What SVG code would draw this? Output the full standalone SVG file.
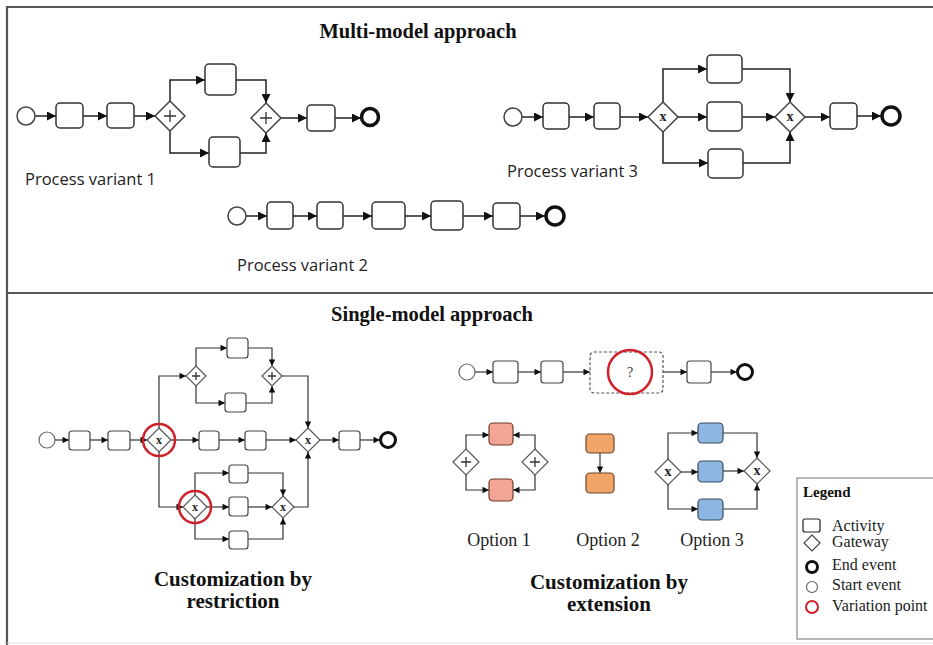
<svg xmlns="http://www.w3.org/2000/svg" width="933" height="645" viewBox="0 0 933 645">
<defs>
<style>
.t{fill:#fff;stroke:#333;stroke-width:1.5}
.ts{fill:#fff;stroke:#444;stroke-width:1.2}
.g{fill:#fff;stroke:#444;stroke-width:1.5}
.gs{fill:#fff;stroke:#555;stroke-width:1.2}
.st{fill:#fff;stroke:#444;stroke-width:1.5}
.sts{fill:#fff;stroke:#666;stroke-width:1.2}
.en{fill:#fff;stroke:#111;stroke-width:3.5}
.ens{fill:#fff;stroke:#111;stroke-width:3}
.vp{fill:none;stroke:#d0202a;stroke-width:2.5}
.c{fill:none;stroke:#222;stroke-width:1.5}
.cs{fill:none;stroke:#333;stroke-width:1.2}
.pl{stroke:#333;stroke-width:1.3}
.pink{fill:#f4a593;stroke:#6b3a33;stroke-width:1.2}
.org{fill:#f0a468;stroke:#6b4526;stroke-width:1.2}
.blu{fill:#8db6e2;stroke:#3a4a5c;stroke-width:1.2}
.h{font-family:"Liberation Serif",serif;font-weight:bold;font-size:20.5px;fill:#111}
.sub{font-family:"Liberation Serif",serif;font-weight:bold;font-size:21px;fill:#111;text-anchor:middle}
.pv{font-family:"Open Sans","Liberation Sans",sans-serif;font-size:16.5px;fill:#222}
.op{font-family:"Liberation Serif",serif;font-size:18px;fill:#222;text-anchor:middle}
.lg{font-family:"Liberation Serif",serif;font-size:16px;fill:#222}
.x{font-family:"Liberation Serif",serif;font-weight:bold;font-size:14px;fill:#222;text-anchor:middle}
.xs{font-family:"Liberation Serif",serif;font-weight:bold;font-size:12px;fill:#222;text-anchor:middle}
</style>
<marker id="ah" viewBox="0 0 10 10" refX="10" refY="5" markerWidth="10" markerHeight="9" markerUnits="userSpaceOnUse" orient="auto"><path d="M0,0 L10,5 L0,10 z" fill="#111"/></marker>
<marker id="as" viewBox="0 0 10 10" refX="10" refY="5" markerWidth="7.5" markerHeight="6.5" markerUnits="userSpaceOnUse" orient="auto"><path d="M0,0 L10,5 L0,10 z" fill="#111"/></marker>
</defs>
<rect width="933" height="645" fill="#fff"/>
<g id="frame">
<path d="M7,645 V7 H933" fill="none" stroke="#555" stroke-width="2.2"/>
<line x1="7" y1="293" x2="933" y2="293" stroke="#555" stroke-width="2.2"/>
<line x1="7" y1="643" x2="933" y2="643" stroke="#ddd" stroke-width="1"/>
</g>
<text class="h" x="418" y="38" text-anchor="middle">Multi-model approach</text>
<text class="h" x="432" y="321" text-anchor="middle">Single-model approach</text>

<g id="connectors">
<!-- Variant 1 -->
<path class="c" marker-end="url(#ah)" d="M35,116 H56"/>
<path class="c" marker-end="url(#ah)" d="M83,116 H107"/>
<path class="c" marker-end="url(#ah)" d="M134,116 H155"/>
<path class="c" marker-end="url(#ah)" d="M170,101 V80 H205"/>
<path class="c" marker-end="url(#ah)" d="M236,80 H266 V103"/>
<path class="c" marker-end="url(#ah)" d="M170,131 V153 H209"/>
<path class="c" marker-end="url(#ah)" d="M240,153 H266 V133"/>
<path class="c" marker-end="url(#ah)" d="M281,118 H307"/>
<path class="c" marker-end="url(#ah)" d="M335,118 H361"/>
<!-- Variant 2 -->
<path class="c" marker-end="url(#ah)" d="M246,216 H267"/>
<path class="c" marker-end="url(#ah)" d="M293,216 H317"/>
<path class="c" marker-end="url(#ah)" d="M343,216 H372"/>
<path class="c" marker-end="url(#ah)" d="M405,216 H431"/>
<path class="c" marker-end="url(#ah)" d="M463,216 H493"/>
<path class="c" marker-end="url(#ah)" d="M520,216 H545"/>
<!-- Variant 3 -->
<path class="c" marker-end="url(#ah)" d="M522,117 H543"/>
<path class="c" marker-end="url(#ah)" d="M569,117 H594"/>
<path class="c" marker-end="url(#ah)" d="M620,117 H648"/>
<path class="c" marker-end="url(#ah)" d="M663,102 V69 H707"/>
<path class="c" marker-end="url(#ah)" d="M742,69 H790 V102"/>
<path class="c" marker-end="url(#ah)" d="M678,117 H707"/>
<path class="c" marker-end="url(#ah)" d="M742,117 H775"/>
<path class="c" marker-end="url(#ah)" d="M663,132 V163 H708"/>
<path class="c" marker-end="url(#ah)" d="M743,163 H790 V132"/>
<path class="c" marker-end="url(#ah)" d="M805,117 H830"/>
<path class="c" marker-end="url(#ah)" d="M857,116 H881"/>
<!-- Restriction -->
<path class="cs" marker-end="url(#as)" d="M55,440 H69"/>
<path class="cs" marker-end="url(#as)" d="M90,440 H108"/>
<path class="cs" marker-end="url(#as)" d="M130,440 H147"/>
<path class="cs" marker-end="url(#as)" d="M159,428 V376 H186"/>
<path class="cs" marker-end="url(#as)" d="M196,366 V348 H227"/>
<path class="cs" marker-end="url(#as)" d="M248,348 H272 V366"/>
<path class="cs" marker-end="url(#as)" d="M196,386 V403 H225"/>
<path class="cs" marker-end="url(#as)" d="M246,403 H272 V386"/>
<path class="cs" marker-end="url(#as)" d="M282,376 H308 V428"/>
<path class="cs" marker-end="url(#as)" d="M171,440 H199"/>
<path class="cs" marker-end="url(#as)" d="M219,440 H245"/>
<path class="cs" marker-end="url(#as)" d="M266,440 H296"/>
<path class="cs" marker-end="url(#as)" d="M320,440 H339"/>
<path class="cs" marker-end="url(#as)" d="M360,440 H380"/>
<path class="cs" marker-end="url(#as)" d="M159,452 V507 H183"/>
<path class="cs" marker-end="url(#as)" d="M195,495 V473 H229"/>
<path class="cs" marker-end="url(#as)" d="M248,473 H283 V496"/>
<path class="cs" marker-end="url(#as)" d="M207,507 H229"/>
<path class="cs" marker-end="url(#as)" d="M248,507 H272"/>
<path class="cs" marker-end="url(#as)" d="M195,519 V539 H229"/>
<path class="cs" marker-end="url(#as)" d="M248,539 H283 V518"/>
<path class="cs" marker-end="url(#as)" d="M294,507 H308 V452"/>
<!-- Extension -->
<path class="cs" marker-end="url(#as)" d="M475,372 H493"/>
<path class="cs" marker-end="url(#as)" d="M518,372 H541"/>
<path class="cs" marker-end="url(#as)" d="M563,372 H590"/>
<path class="cs" marker-end="url(#as)" d="M663,372 H687"/>
<path class="cs" marker-end="url(#as)" d="M711,372 H737"/>
<!-- Option 1 -->
<path class="cs" marker-end="url(#as)" d="M466,449 V435 H489"/>
<path class="cs" marker-end="url(#as)" d="M535,449 V435 H513"/>
<path class="cs" marker-end="url(#as)" d="M466,475 V490 H489"/>
<path class="cs" marker-end="url(#as)" d="M535,475 V490 H513"/>
<!-- Option 2 -->
<path class="cs" marker-end="url(#as)" d="M600,453 V473"/>
<!-- Option 3 -->
<path class="cs" marker-end="url(#as)" d="M668,459 V433 H698"/>
<path class="cs" marker-end="url(#as)" d="M681,472 H698"/>
<path class="cs" marker-end="url(#as)" d="M723,471 H744"/>
<path class="cs" marker-end="url(#as)" d="M723,433 H757 V458"/>
<path class="cs" marker-end="url(#as)" d="M668,485 V509 H698"/>
<path class="cs" marker-end="url(#as)" d="M723,509 H757 V484"/>
</g>

<!-- Variant 1 nodes -->
<g id="v1-start"><circle class="st" cx="26" cy="116" r="9"/></g>
<g id="v1-a1"><rect class="t" x="56" y="103" width="27" height="25" rx="4"/></g>
<g id="v1-a2"><rect class="t" x="107" y="103" width="27" height="25" rx="4"/></g>
<g id="v1-split"><polygon class="g" points="170,101 185,116 170,131 155,116"/><path class="pl" d="M164,116 H176 M170,110 V122"/></g>
<g id="v1-a3"><rect class="t" x="205" y="64" width="31" height="31" rx="4"/></g>
<g id="v1-a4"><rect class="t" x="209" y="137" width="31" height="30" rx="4"/></g>
<g id="v1-join"><polygon class="g" points="266,103 281,118 266,133 251,118"/><path class="pl" d="M260,118 H272 M266,112 V124"/></g>
<g id="v1-a5"><rect class="t" x="307" y="105" width="28" height="26" rx="4"/></g>
<g id="v1-end"><circle class="en" cx="370" cy="117" r="8.5"/></g>
<text class="pv" x="25" y="185">Process variant 1</text>

<!-- Variant 2 nodes -->
<g id="v2-start"><circle class="st" cx="237" cy="216" r="9"/></g>
<g id="v2-a1"><rect class="t" x="267" y="202" width="26" height="27" rx="4"/></g>
<g id="v2-a2"><rect class="t" x="317" y="202" width="26" height="27" rx="4"/></g>
<g id="v2-a3"><rect class="t" x="372" y="202" width="33" height="27" rx="4"/></g>
<g id="v2-a4"><rect class="t" x="431" y="201" width="32" height="29" rx="4"/></g>
<g id="v2-a5"><rect class="t" x="493" y="203" width="27" height="26" rx="4"/></g>
<g id="v2-end"><circle class="en" cx="555" cy="216" r="9"/></g>
<text class="pv" x="237" y="271">Process variant 2</text>

<!-- Variant 3 nodes -->
<g id="v3-start"><circle class="st" cx="513" cy="117" r="9"/></g>
<g id="v3-a1"><rect class="t" x="543" y="103" width="26" height="26" rx="4"/></g>
<g id="v3-a2"><rect class="t" x="594" y="103" width="26" height="26" rx="4"/></g>
<g id="v3-split"><polygon class="g" points="663,102 678,117 663,132 648,117"/><text class="x" x="663" y="121">x</text></g>
<g id="v3-a3"><rect class="t" x="707" y="55" width="35" height="28" rx="4"/></g>
<g id="v3-a4"><rect class="t" x="707" y="102" width="35" height="29" rx="4"/></g>
<g id="v3-a5"><rect class="t" x="708" y="149" width="35" height="29" rx="4"/></g>
<g id="v3-join"><polygon class="g" points="790,102 805,117 790,132 775,117"/><text class="x" x="790" y="121">x</text></g>
<g id="v3-a6"><rect class="t" x="830" y="103" width="27" height="26" rx="4"/></g>
<g id="v3-end"><circle class="en" cx="891" cy="116" r="9"/></g>
<text class="pv" x="507" y="177">Process variant 3</text>

<!-- Restriction nodes -->
<g id="r-start"><circle class="sts" cx="47" cy="440" r="8"/></g>
<g id="r-a1"><rect class="ts" x="69" y="431" width="21" height="19" rx="3"/></g>
<g id="r-a2"><rect class="ts" x="108" y="431" width="22" height="19" rx="3"/></g>
<g id="r-vp1"><polygon class="gs" points="159,428 171,440 159,452 147,440"/><text class="xs" x="159" y="444">x</text><circle class="vp" cx="159" cy="440" r="16"/></g>
<g id="r-psplit"><polygon class="gs" points="196,366 206,376 196,386 186,376"/><path class="pl" d="M192,376 H200 M196,372 V380" stroke-width="1"/></g>
<g id="r-a3"><rect class="ts" x="227" y="338" width="21" height="20" rx="3"/></g>
<g id="r-a4"><rect class="ts" x="225" y="393" width="21" height="19" rx="3"/></g>
<g id="r-pjoin"><polygon class="gs" points="272,366 282,376 272,386 262,376"/><path class="pl" d="M268,376 H276 M272,372 V380" stroke-width="1"/></g>
<g id="r-a5"><rect class="ts" x="199" y="431" width="20" height="19" rx="3"/></g>
<g id="r-a6"><rect class="ts" x="245" y="431" width="21" height="19" rx="3"/></g>
<g id="r-xjoin"><polygon class="gs" points="308,428 320,440 308,452 296,440"/><text class="xs" x="308" y="444">x</text></g>
<g id="r-a7"><rect class="ts" x="339" y="431" width="21" height="19" rx="3"/></g>
<g id="r-end"><circle class="ens" cx="388" cy="440" r="7.5"/></g>
<g id="r-vp2"><polygon class="gs" points="195,495 207,507 195,519 183,507"/><text class="xs" x="195" y="511">x</text><circle class="vp" cx="195" cy="507" r="16"/></g>
<g id="r-a8"><rect class="ts" x="229" y="465" width="19" height="18" rx="3"/></g>
<g id="r-a9"><rect class="ts" x="229" y="497" width="19" height="19" rx="3"/></g>
<g id="r-a10"><rect class="ts" x="229" y="531" width="19" height="18" rx="3"/></g>
<g id="r-ijoin"><polygon class="gs" points="283,496 294,507 283,518 272,507"/><text class="xs" x="283" y="511">x</text></g>
<text class="sub" x="233" y="586">Customization by</text>
<text class="sub" x="233" y="608">restriction</text>

<!-- Extension nodes -->
<g id="e-start"><circle class="sts" cx="467" cy="372" r="8"/></g>
<g id="e-a1"><rect class="ts" x="493" y="361" width="25" height="22" rx="3"/></g>
<g id="e-a2"><rect class="ts" x="541" y="361" width="22" height="22" rx="3"/></g>
<g id="e-vp"><rect x="590" y="352" width="73" height="41" rx="4" fill="#fff" stroke="#555" stroke-width="1.2" stroke-dasharray="3,2"/><circle class="vp" cx="630" cy="372" r="22"/><text x="630" y="377" text-anchor="middle" font-family="Liberation Serif, serif" font-size="14" fill="#333">?</text></g>
<g id="e-a3"><rect class="ts" x="687" y="361" width="24" height="22" rx="3"/></g>
<g id="e-end"><circle class="ens" cx="745" cy="372" r="7.5"/></g>

<g id="o1-left"><polygon class="gs" points="466,449 479,462 466,475 453,462"/><path class="pl" d="M461,462 H471 M466,457 V467" stroke-width="1"/></g>
<g id="o1-top"><rect class="pink" x="489" y="423" width="24" height="22" rx="4"/></g>
<g id="o1-bot"><rect class="pink" x="489" y="479" width="24" height="22" rx="4"/></g>
<g id="o1-right"><polygon class="gs" points="535,449 548,462 535,475 522,462"/><path class="pl" d="M530,462 H540 M535,457 V467" stroke-width="1"/></g>
<g id="o2-top"><rect class="org" x="586" y="434" width="28" height="19" rx="4"/></g>
<g id="o2-bot"><rect class="org" x="586" y="473" width="28" height="20" rx="4"/></g>
<g id="o3-split"><polygon class="gs" points="668,459 681,472 668,485 655,472"/><text class="x" x="668" y="476">x</text></g>
<g id="o3-top"><rect class="blu" x="698" y="423" width="25" height="20" rx="4"/></g>
<g id="o3-mid"><rect class="blu" x="698" y="461" width="25" height="21" rx="4"/></g>
<g id="o3-bot"><rect class="blu" x="698" y="499" width="25" height="21" rx="4"/></g>
<g id="o3-join"><polygon class="gs" points="757,458 770,471 757,484 744,471"/><text class="x" x="757" y="475">x</text></g>
<text class="op" x="499" y="546">Option 1</text>
<text class="op" x="608" y="546">Option 2</text>
<text class="op" x="712" y="546">Option 3</text>
<text class="sub" x="609" y="589">Customization by</text>
<text class="sub" x="609" y="611">extension</text>

<!-- Legend -->
<g id="legend">
<rect x="797" y="478" width="140" height="161" fill="#fff" stroke="#888" stroke-width="1.2"/>
<text x="803" y="497" font-family="Liberation Serif, serif" font-weight="bold" font-size="15" fill="#111">Legend</text>
<rect x="803" y="519" width="17" height="13" rx="2" fill="#fff" stroke="#222" stroke-width="1.2"/>
<polygon points="812,535 820,543 812,551 804,543" fill="#fff" stroke="#444" stroke-width="1.2"/>
<circle cx="812" cy="567" r="5.5" fill="#fff" stroke="#111" stroke-width="3"/>
<circle cx="812" cy="587" r="5.5" fill="#fff" stroke="#666" stroke-width="1.2"/>
<circle cx="812" cy="607" r="6" fill="#fff" stroke="#d0202a" stroke-width="2"/>
<text class="lg" x="832" y="531">Activity</text>
<text class="lg" x="832" y="547">Gateway</text>
<text class="lg" x="832" y="570">End event</text>
<text class="lg" x="832" y="590">Start event</text>
<text class="lg" x="832" y="611">Variation point</text>
</g>
</svg>
